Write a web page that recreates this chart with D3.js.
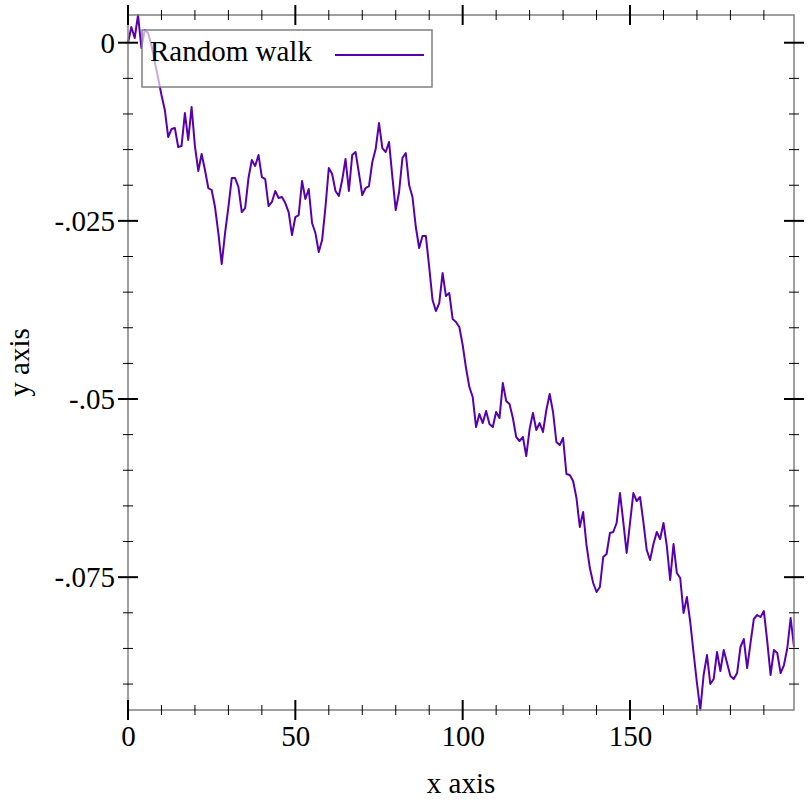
<!DOCTYPE html>
<html>
<head>
<meta charset="utf-8">
<script src="https://cdn.jsdelivr.net/npm/d3@7"></script>
<style>
  html, body { margin: 0; padding: 0; background: #fff; }
  svg { display: block; }
  text { font-family: "Liberation Serif", "Times New Roman", serif; fill: #000; }
</style>
</head>
<body>
<svg id="chart" width="812" height="812"></svg>
<script>
// Random walk -- one value per step

var walk = [
  0, 0.0022, 0.00066, 0.00389, -0.00074, 0.00178, 0.00136, -0.00032, -0.00271, -0.00495,
  -0.00734, -0.00944, -0.01323, -0.01211, -0.01197, -0.01464, -0.0145, -0.00987, -0.01365, -0.00902,
  -0.0145, -0.018, -0.01562, -0.01786, -0.02039, -0.02067, -0.02306, -0.02671, -0.03106, -0.02671,
  -0.02306, -0.01899, -0.01899, -0.02025, -0.02376, -0.0232, -0.01899, -0.01646, -0.0173, -0.01576,
  -0.01885, -0.01913, -0.02292, -0.02235, -0.02081, -0.02179, -0.02165, -0.0225, -0.02376, -0.02699,
  -0.02446, -0.02418, -0.01941, -0.02193, -0.02053, -0.0253, -0.02671, -0.02937, -0.02769, -0.02306,
  -0.01758, -0.01843, -0.02081, -0.02151, -0.01927, -0.01632, -0.02081, -0.01576, -0.01534, -0.01829,
  -0.02137, -0.02039, -0.02011, -0.01674, -0.01492, -0.01127, -0.01478, -0.01534, -0.01394, -0.01885,
  -0.02348, -0.02095, -0.01618, -0.01548, -0.01997, -0.02165, -0.02586, -0.02881, -0.02713, -0.02713,
  -0.03148, -0.03611, -0.03765, -0.03653, -0.03232, -0.03555, -0.03513, -0.03877, -0.03919, -0.0399,
  -0.04242, -0.04565, -0.04832, -0.04972, -0.05393, -0.05211, -0.05337, -0.05168, -0.05351, -0.05393,
  -0.05182, -0.05267, -0.04776, -0.05028, -0.0507, -0.05267, -0.05533, -0.05589, -0.05533, -0.058,
  -0.05421, -0.05196, -0.05435, -0.05337, -0.05463, -0.05154, -0.0493, -0.05182, -0.05603, -0.05646,
  -0.05547, -0.06052, -0.06067, -0.06151, -0.06389, -0.06796, -0.06586, -0.07049, -0.07372, -0.07582,
  -0.07708, -0.07638, -0.07217, -0.07175, -0.0688, -0.06866, -0.0674, -0.06319, -0.06726, -0.07161,
  -0.0674, -0.06319, -0.06431, -0.06375, -0.06726, -0.07119, -0.07259, -0.07035, -0.06866, -0.06965,
  -0.0674, -0.07063, -0.0754, -0.07035, -0.07442, -0.07512, -0.08003, -0.07779, -0.08129, -0.08564,
  -0.08985, -0.09364, -0.08873, -0.08593, -0.08999, -0.08929, -0.0855, -0.08817, -0.08522, -0.08705,
  -0.08887, -0.08929, -0.08845, -0.0848, -0.08368, -0.08775, -0.08424, -0.08087, -0.08031, -0.08059,
  -0.07975, -0.08396, -0.08873, -0.08522, -0.08564, -0.08845, -0.08733, -0.08494, -0.08073, -0.0848
];

var xMajor = [0, 50, 100, 150];
var xMajorLabels = ["0", "50", "100", "150"];
var xMinor = [10, 20, 30, 40, 60, 70, 80, 90, 110, 120, 130, 140, 160, 170, 180, 190];

var yMajor = [0, -0.025, -0.05, -0.075];
var yMajorLabels = ["0", "-.025", "-.05", "-.075"];
var yMinor = [-0.005, -0.01, -0.015, -0.02, -0.03, -0.035, -0.04, -0.045,
              -0.055, -0.06, -0.065, -0.07, -0.08, -0.085, -0.09];

var seriesName = "Random walk";
var xTitle = "x axis";
var yTitle = "y axis";

///////////////////////////////////////////////////////////////////////////////
// Scales

var plotLeft = 128, plotRight = 794, plotTop = 15, plotBottom = 710;
var lineColor = "#5800b0";
var axisColor = "#808080";
var fontSize = 29;

var svg = d3.select("#chart");

var x = d3.scaleLinear().domain([0, walk.length - 1]).range([plotLeft, plotRight]);
var y = d3.scaleLinear().domain(d3.extent(walk)).range([plotBottom, plotTop]);

///////////////////////////////////////////////////////////////////////////////
// Data line

var line = d3.line()
  .x(function (d, i) { return x(i); })
  .y(function (d) { return y(d); });

svg.append("path")
  .datum(walk)
  .attr("fill", "none")
  .attr("stroke", lineColor)
  .attr("stroke-width", 2)
  .attr("stroke-linejoin", "round")
  .attr("d", line);

///////////////////////////////////////////////////////////////////////////////
// Frame and ticks (drawn both sides of each edge, like racket/plot)

svg.append("rect")
  .attr("x", plotLeft).attr("y", plotTop)
  .attr("width", plotRight - plotLeft).attr("height", plotBottom - plotTop)
  .attr("fill", "none")
  .attr("stroke", axisColor)
  .attr("stroke-width", 1.5);

var ticks = svg.append("g").attr("stroke", "#000");

function xTicks(vals, r, w) {
  [plotTop, plotBottom].forEach(function (edge) {
    ticks.selectAll(null).data(vals).enter().append("line")
      .attr("x1", x).attr("x2", x)
      .attr("y1", edge - r).attr("y2", edge + r)
      .attr("stroke-width", w);
  });
}

function yTicks(vals, r, w) {
  [plotLeft, plotRight].forEach(function (edge) {
    ticks.selectAll(null).data(vals).enter().append("line")
      .attr("y1", y).attr("y2", y)
      .attr("x1", edge - r).attr("x2", edge + r)
      .attr("stroke-width", w);
  });
}

xTicks(xMinor, 5, 1);
yTicks(yMinor, 5, 1);
xTicks(xMajor, 10, 2);
yTicks(yMajor, 10, 2);

///////////////////////////////////////////////////////////////////////////////
// Tick labels

var xAxis = d3.axisBottom(x)
  .tickValues(xMajor)
  .tickSize(0)
  .tickPadding(0)
  .tickFormat(function (d, i) { return xMajorLabels[i]; });

var gx = svg.append("g").attr("transform", "translate(0," + plotBottom + ")").call(xAxis);
gx.select(".domain").remove();
gx.selectAll("text")
  .attr("y", 36).attr("dy", null)
  .attr("font-family", "Liberation Serif")
  .attr("font-size", fontSize);

var yAxis = d3.axisLeft(y)
  .tickValues(yMajor)
  .tickSize(0)
  .tickPadding(13)
  .tickFormat(function (d, i) { return yMajorLabels[i]; });

var gy = svg.append("g").attr("transform", "translate(" + plotLeft + ",0)").call(yAxis);
gy.select(".domain").remove();
gy.selectAll("text")
  .attr("dy", "0.33em")
  .attr("font-family", "Liberation Serif")
  .attr("font-size", fontSize);

///////////////////////////////////////////////////////////////////////////////
// Axis titles

svg.append("text")
  .attr("x", (plotLeft + plotRight) / 2)
  .attr("y", 793)
  .attr("text-anchor", "middle")
  .attr("font-size", fontSize)
  .text(xTitle);

svg.append("text")
  .attr("transform", "translate(29," + (plotTop + plotBottom) / 2 + ") rotate(-90)")
  .attr("text-anchor", "middle")
  .attr("font-size", fontSize)
  .text(yTitle);

///////////////////////////////////////////////////////////////////////////////
// Legend

var legend = svg.append("g");

legend.append("rect")
  .attr("x", 142).attr("y", 30)
  .attr("width", 290).attr("height", 57)
  .attr("fill", "#fff").attr("fill-opacity", 2 / 3)
  .attr("stroke", axisColor).attr("stroke-width", 1.5);

legend.append("text")
  .attr("x", 150).attr("y", 61)
  .attr("font-size", fontSize)
  .text(seriesName);

legend.append("line")
  .attr("x1", 335).attr("x2", 424)
  .attr("y1", 55).attr("y2", 55)
  .attr("stroke", lineColor).attr("stroke-width", 2);
</script>
</body>
</html>
